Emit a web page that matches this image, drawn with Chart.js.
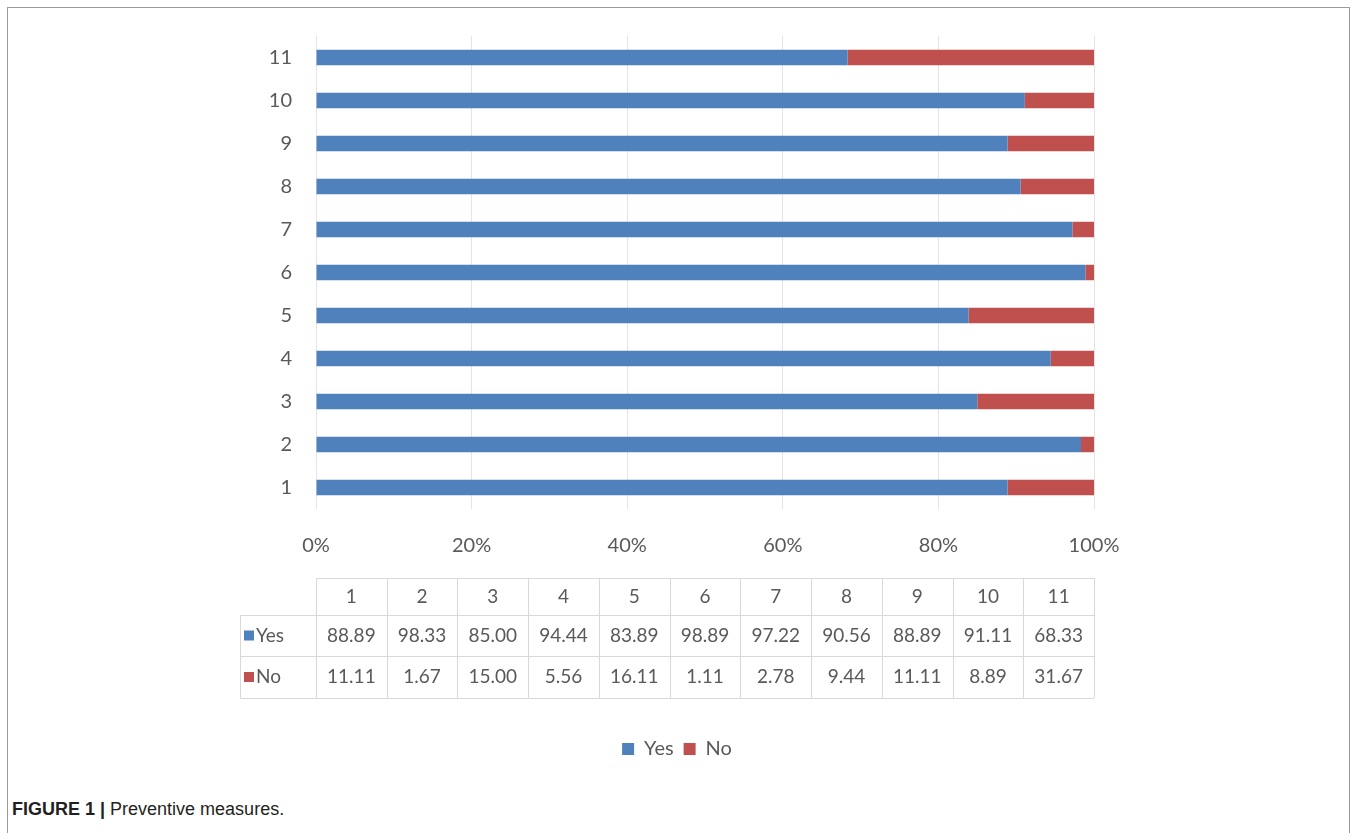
<!DOCTYPE html>
<html>
<head>
<meta charset="utf-8">
<script src="https://cdn.jsdelivr.net/npm/chart.js@4.4.0/dist/chart.umd.min.js"></script>
<style>
  html, body { margin: 0; padding: 0; background: #fff; }
  body { width: 1357px; height: 833px; position: relative; overflow: hidden; }
  #frame { position: absolute; left: 7px; top: 7px; width: 1341px; height: 900px; border: 1px solid #9a9a9a; }
  #wrap { position: absolute; left: 0; top: 0; width: 1357px; height: 785px; }
  #caption { position: absolute; left: 12px; top: 799px; font-family: "Liberation Sans", Arial, sans-serif; font-size: 18px; color: #231f20; }
  #caption b { font-weight: bold; }
</style>
</head>
<body>
<div id="frame"></div>
<div id="wrap"><canvas id="myChart"></canvas></div>
<div id="caption"><b>FIGURE 1 |</b> Preventive measures.</div>
<script>
const categories = ['1', '2', '3', '4', '5', '6', '7', '8', '9', '10', '11'];
const yesValues = [88.89, 98.33, 85.00, 94.44, 83.89, 98.89, 97.22, 90.56, 88.89, 91.11, 68.33];
const noValues = [11.11, 1.67, 15.00, 5.56, 16.11, 1.11, 2.78, 9.44, 11.11, 8.89, 31.67];
const seriesNames = ['Yes', 'No'];
const seriesColors = ['#4f81bd', '#c0504d'];

const textColor = '#595959';
const fontFamily = 'Lato, "Open Sans", sans-serif';

// data table under the x axis, columns follow the x scale
const dataTable = {
  id: 'dataTable',
  afterDraw(chart) {
    const ctx = chart.ctx;
    const x = chart.scales.x;
    const left = x.left, right = x.right;
    const colW = (right - left) / categories.length;
    const labelLeft = left - 76;
    const top = chart.chartArea.bottom + 69;
    const rows = [top, top + 37, top + 78, top + 120];
    const lineColor = '#d9d9d9';

    ctx.save();
    ctx.strokeStyle = lineColor;
    ctx.lineWidth = 1;
    ctx.beginPath();
    // horizontal lines
    ctx.moveTo(left, rows[0] + 0.5); ctx.lineTo(right, rows[0] + 0.5);
    for (let r = 1; r < rows.length; r++) {
      ctx.moveTo(labelLeft, rows[r] + 0.5); ctx.lineTo(right, rows[r] + 0.5);
    }
    // vertical lines
    ctx.moveTo(labelLeft + 0.5, rows[1]); ctx.lineTo(labelLeft + 0.5, rows[3]);
    for (let c = 0; c <= categories.length; c++) {
      const cx = Math.round(left + c * colW) + 0.5;
      ctx.moveTo(cx, rows[0]); ctx.lineTo(cx, rows[3]);
    }
    ctx.stroke();

    ctx.font = '19px ' + fontFamily;
    ctx.fillStyle = textColor;
    ctx.textAlign = 'center';
    ctx.textBaseline = 'middle';
    const series = [yesValues, noValues];
    categories.forEach((cat, i) => {
      const cx = left + (i + 0.5) * colW;
      ctx.fillText(cat, cx, (rows[0] + rows[1]) / 2);
      series.forEach((vals, s) => {
        ctx.fillText(vals[i].toFixed(2), cx, (rows[s + 1] + rows[s + 2]) / 2);
      });
    });
    // row headers with colour keys
    ctx.textAlign = 'left';
    seriesNames.forEach((name, s) => {
      const cy = (rows[s + 1] + rows[s + 2]) / 2;
      ctx.fillStyle = seriesColors[s];
      ctx.fillRect(labelLeft + 4, cy - 5, 10, 10);
      ctx.fillStyle = textColor;
      ctx.fillText(name, labelLeft + 16, cy);
    });
    ctx.restore();
  }
};

const ctx = document.getElementById('myChart').getContext('2d');
const myChart = new Chart(ctx, {
  type: 'bar',
  data: {
    labels: categories,
    datasets: [
      { label: seriesNames[0], data: yesValues, backgroundColor: seriesColors[0] },
      { label: seriesNames[1], data: noValues, backgroundColor: seriesColors[1] }
    ]
  },
  options: {
    indexAxis: 'y',
    responsive: true,
    maintainAspectRatio: false,
    animation: false,
    datasets: { bar: { categoryPercentage: 1, barPercentage: 0.36 } },
    layout: { padding: { left: 260, right: 263, top: 34, bottom: 16 } },
    scales: {
      x: {
        stacked: true,
        min: 0,
        max: 100,
        ticks: {
          stepSize: 20,
          padding: 25,
          color: textColor,
          font: { family: fontFamily, size: 20 },
          callback: v => v + '%'
        },
        grid: { color: '#e4e4e4', drawTicks: false },
        border: { display: false },
        afterFit: scale => { scale.height = 220; }
      },
      y: {
        stacked: true,
        reverse: true,
        ticks: {
          padding: 24,
          color: textColor,
          font: { family: fontFamily, size: 20 }
        },
        grid: { display: false, drawTicks: false },
        border: { display: false },
        afterFit: scale => { scale.width = 56; }
      }
    },
    plugins: {
      legend: {
        position: 'bottom',
        labels: {
          boxWidth: 12,
          boxHeight: 12,
          padding: 10,
          color: textColor,
          font: { family: fontFamily, size: 20 }
        }
      },
      tooltip: { enabled: false }
    }
  },
  plugins: [dataTable]
});
</script>
</body>
</html>
